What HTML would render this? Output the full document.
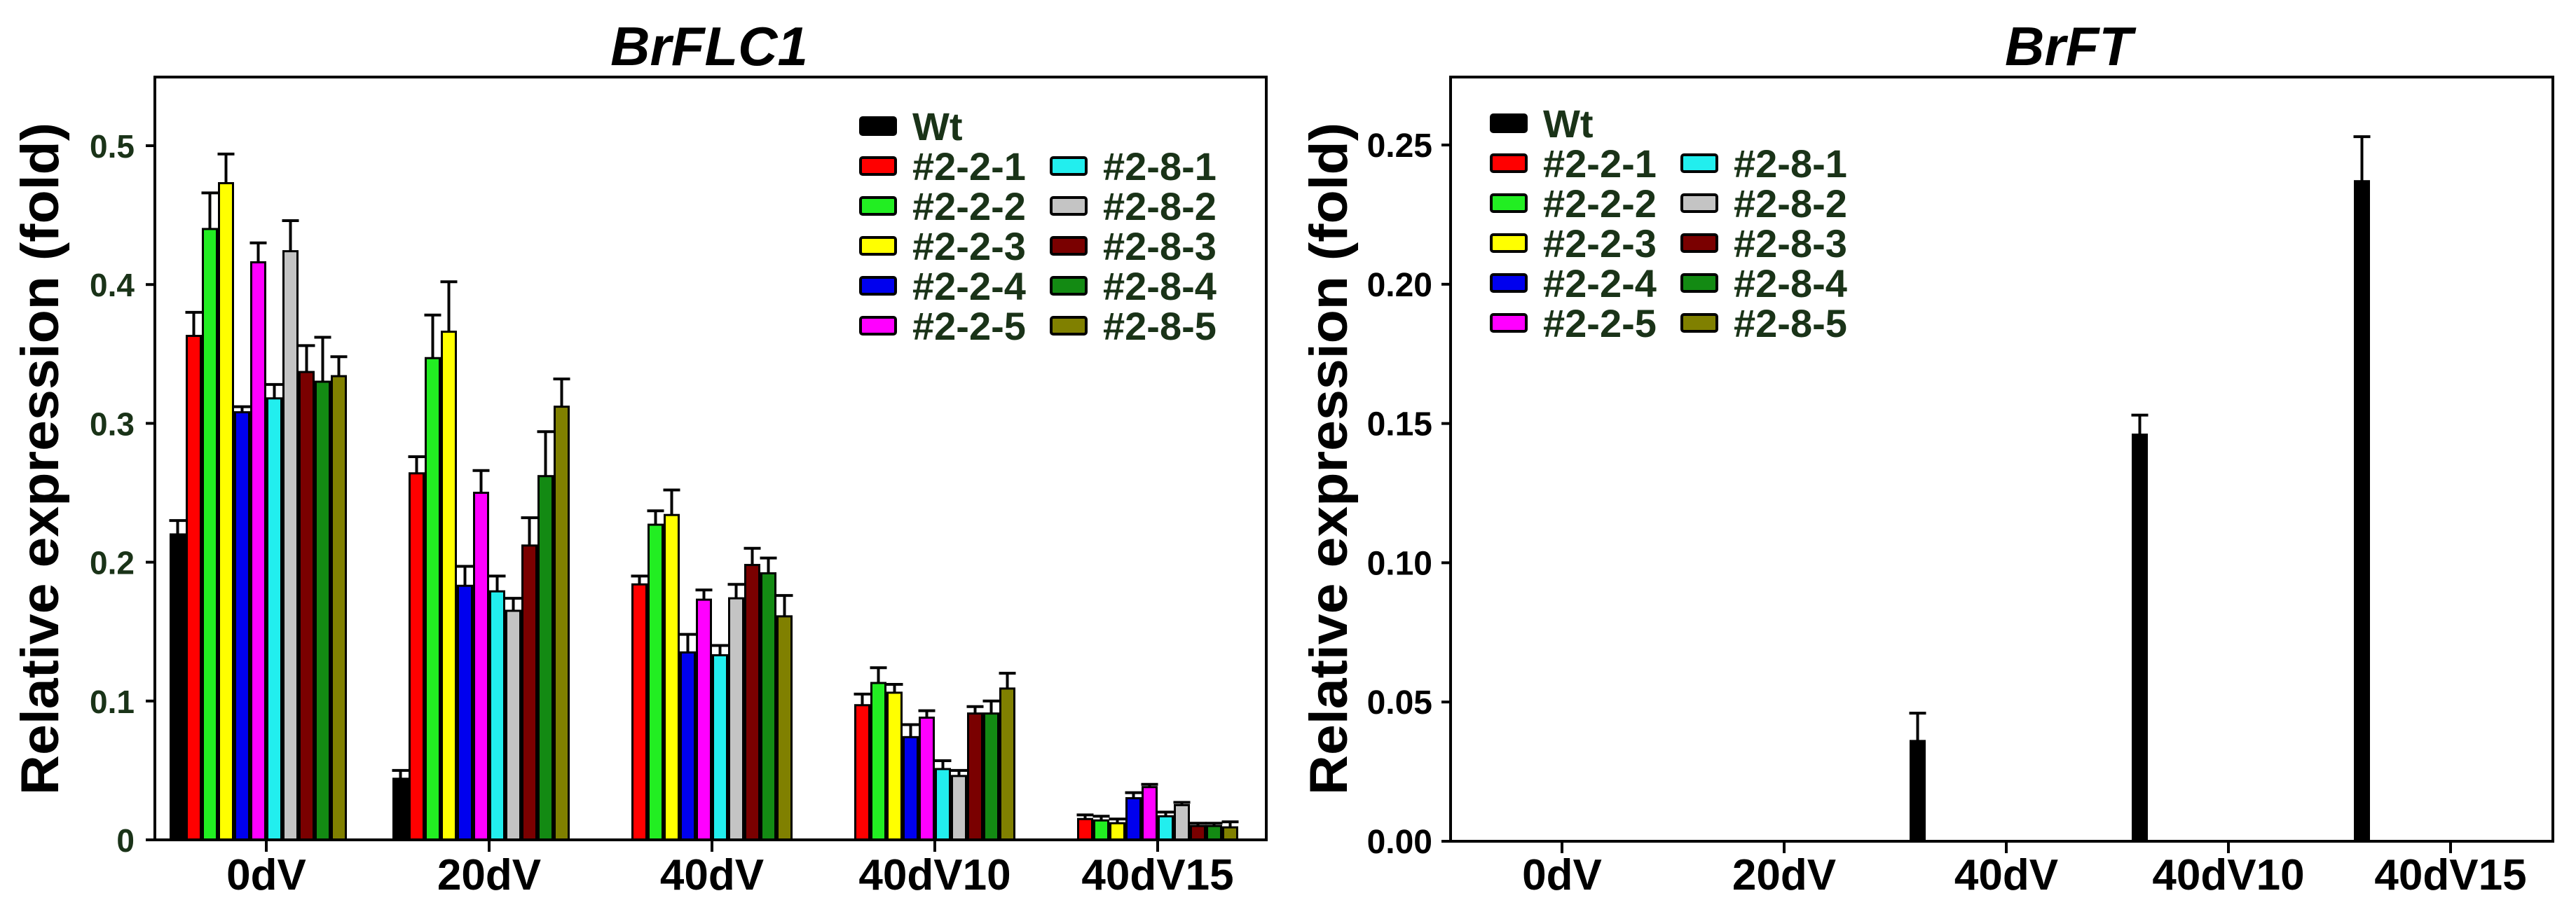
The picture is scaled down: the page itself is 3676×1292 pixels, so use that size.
<!DOCTYPE html>
<html><head><meta charset="utf-8"><style>
html,body{margin:0;padding:0;background:#fff;}
svg{display:block;}
text{font-family:"Liberation Sans",Arial,sans-serif;font-weight:bold;}
</style></head><body>
<svg id="fig" width="3676" height="1292" viewBox="0 0 3676 1292" xmlns="http://www.w3.org/2000/svg">
<g id="left"></g>
<g id="right"></g>
</svg>
<script>
const categories = ["0dV","20dV","40dV","40dV10","40dV15"];
const seriesNames = ["Wt","#2-2-1","#2-2-2","#2-2-3","#2-2-4","#2-2-5","#2-8-1","#2-8-2","#2-8-3","#2-8-4","#2-8-5"];
const seriesColors = ["#000000","#ff0000","#22ee22","#ffff00","#0000ee","#ff00ff","#22eeee","#c4c4c4","#7a0000","#138a13","#808000"];
// BrFLC1 values [series][category]
const flcWt   = [0.220,0.044,0,0,0];
const flc221  = [0.363,0.264,0.184,0.097,0.015];
const flc222  = [0.440,0.347,0.227,0.113,0.014];
const flc223  = [0.473,0.366,0.234,0.106,0.012];
const flc224  = [0.308,0.183,0.135,0.074,0.030];
const flc225  = [0.416,0.250,0.173,0.088,0.038];
const flc281  = [0.318,0.179,0.133,0.051,0.017];
const flc282  = [0.424,0.165,0.174,0.046,0.025];
const flc283  = [0.337,0.212,0.198,0.091,0.010];
const flc284  = [0.330,0.262,0.192,0.091,0.010];
const flc285  = [0.334,0.312,0.161,0.109,0.009];
// error bar tops
const flcWtE  = [0.230,0.050,0,0,0];
const flc221E = [0.380,0.276,0.190,0.105,0.018];
const flc222E = [0.466,0.378,0.237,0.124,0.017];
const flc223E = [0.494,0.402,0.252,0.112,0.015];
const flc224E = [0.312,0.197,0.148,0.083,0.034];
const flc225E = [0.430,0.266,0.180,0.093,0.040];
const flc281E = [0.328,0.190,0.140,0.057,0.020];
const flc282E = [0.446,0.174,0.184,0.050,0.027];
const flc283E = [0.356,0.232,0.210,0.096,0.012];
const flc284E = [0.362,0.294,0.203,0.100,0.012];
const flc285E = [0.348,0.332,0.176,0.120,0.013];
const flcTicks = ["0","0.1","0.2","0.3","0.4","0.5"];
// BrFT values
const ftWt  = [0,0,0.036,0.146,0.237];
const ftWtE = [0,0,0.046,0.153,0.253];
const ftTicks = ["0.00","0.05","0.10","0.15","0.20","0.25"];

const flcVals = [flcWt,flc221,flc222,flc223,flc224,flc225,flc281,flc282,flc283,flc284,flc285];
const flcErrs = [flcWtE,flc221E,flc222E,flc223E,flc224E,flc225E,flc281E,flc282E,flc283E,flc284E,flc285E];
const zeros=[0,0,0,0,0];
const ftVals = [ftWt,zeros,zeros,zeros,zeros,zeros,zeros,zeros,zeros,zeros,zeros];
const ftErrs = [ftWtE,zeros,zeros,zeros,zeros,zeros,zeros,zeros,zeros,zeros,zeros];

const NS="http://www.w3.org/2000/svg";
function mk(parent,tag,attrs){const e=document.createElementNS(NS,tag);for(const k in attrs)e.setAttribute(k,attrs[k]);parent.appendChild(e);return e;}

function drawChart(g,cfg){
  const {x0,x1,yTop,yBase,ymax,c0,step,vals,errs,ticks,tickColor,title,titleX,tickLabelX,ylabX,legX,legY,legDX,legDY,bw,edge}=cfg;
  const ys=v=>yBase-v/ymax*(yBase-cfg.yRefPix)*1; // yRefPix = pixel at ymax ref
  const xs=(ci,si)=>c0+ci*step+(si-5.5)*bw;
  // title
  let t=mk(g,'text',{x:titleX,y:93,'font-size':78,'font-style':'italic','text-anchor':'middle',fill:'#000'});
  t.textContent=title;
  
  
  // y-axis title
  t=mk(g,'text',{x:0,y:0,'font-size':76,'text-anchor':'middle',fill:'#000',transform:`translate(${ylabX},655) rotate(-90)`,textLength:960,lengthAdjust:'spacingAndGlyphs'});
  t.textContent='Relative expression (fold)';
  
  
  // bars
  for(let si=0;si<vals.length;si++){
    for(let ci=0;ci<categories.length;ci++){
      const v=vals[si][ci]; if(v<=0) continue;
      const xl=xs(ci,si)-bw/2, yt=ys(v);
      const r=mk(g,'rect',{x:xl+1.5,y:yt,width:bw-3,height:yBase-yt,fill:seriesColors[si],stroke:'#000','stroke-width':edge});
      
      
      const e=errs[si][ci];
      if(e>v){
        const xc=xs(ci,si), ye=ys(e);
        const l=mk(g,'path',{d:`M${xc},${yt} V${ye} M${xc-12},${ye} H${xc+12}`,stroke:'#000','stroke-width':4,fill:'none'});
        
        
      }
    }
  }
  // frame
  const f=mk(g,'rect',{x:x0,y:yTop,width:x1-x0,height:yBase-yTop,fill:'none',stroke:'#000','stroke-width':4});
  
  
  // y ticks
  for(let i=0;i<ticks.length;i++){
    const v=ymax*i/(ticks.length-1), y=ys(v);
    mk(g,'line',{x1:x0-13,x2:x0,y1:y,y2:y,stroke:'#000','stroke-width':4});
    const tl=mk(g,'text',{x:tickLabelX,y:y+17,'font-size':cfg.tickFont,'text-anchor':'end',fill:tickColor});
    tl.textContent=ticks[i];
    
    
  }
  // x ticks
  for(let ci=0;ci<categories.length;ci++){
    const x=c0+ci*step;
    mk(g,'line',{x1:x,x2:x,y1:yBase,y2:yBase+17,stroke:'#000','stroke-width':4});
    const tl=mk(g,'text',{x:x,y:1270,'font-size':62,'text-anchor':'middle',fill:'#000'});
    tl.textContent=categories[ci];
    
    
  }
  // legend
  const lg=mk(g,'g',{});
  
  
  for(let si=0;si<seriesNames.length;si++){
    let col,row;
    if(si===0){col=0;row=0;} else if(si<=5){col=0;row=si;} else {col=1;row=si-5;}
    const lx=legX+col*legDX, ly=legY+row*legDY;
    const sw=mk(lg,'rect',{x:lx,y:ly-12,width:50,height:24,rx:3,fill:seriesColors[si],stroke:'#000','stroke-width':4});
    
    
    const lt=mk(lg,'text',{x:lx+74,y:ly+20,'font-size':cfg.legFont,fill:'#1a3318'});
    lt.textContent=seriesNames[si];
    
    
  }
}

drawChart(document.getElementById('left'),{
  x0:221,x1:1807,yTop:110,yBase:1199,ymax:0.5,yRefPix:208,c0:380,step:318,
  vals:flcVals,errs:flcErrs,ticks:flcTicks,tickColor:'#1a3318',tickFont:46,
  title:'BrFLC1',titleX:1012,tickLabelX:192,ylabX:83,
  legX:1228,legY:180,legDX:272,legDY:57,legFont:56,bw:23,edge:3
});
drawChart(document.getElementById('right'),{
  x0:2070,x1:3643,yTop:110,yBase:1201,ymax:0.25,yRefPix:207,c0:2229,step:317,
  vals:ftVals,errs:ftErrs,ticks:ftTicks,tickColor:'#000',tickFont:48,
  title:'BrFT',titleX:2952,tickLabelX:2044,ylabX:1922,
  legX:2128,legY:176,legDX:272,legDY:57,legFont:56,bw:23,edge:3
});
</script>
</body></html>
